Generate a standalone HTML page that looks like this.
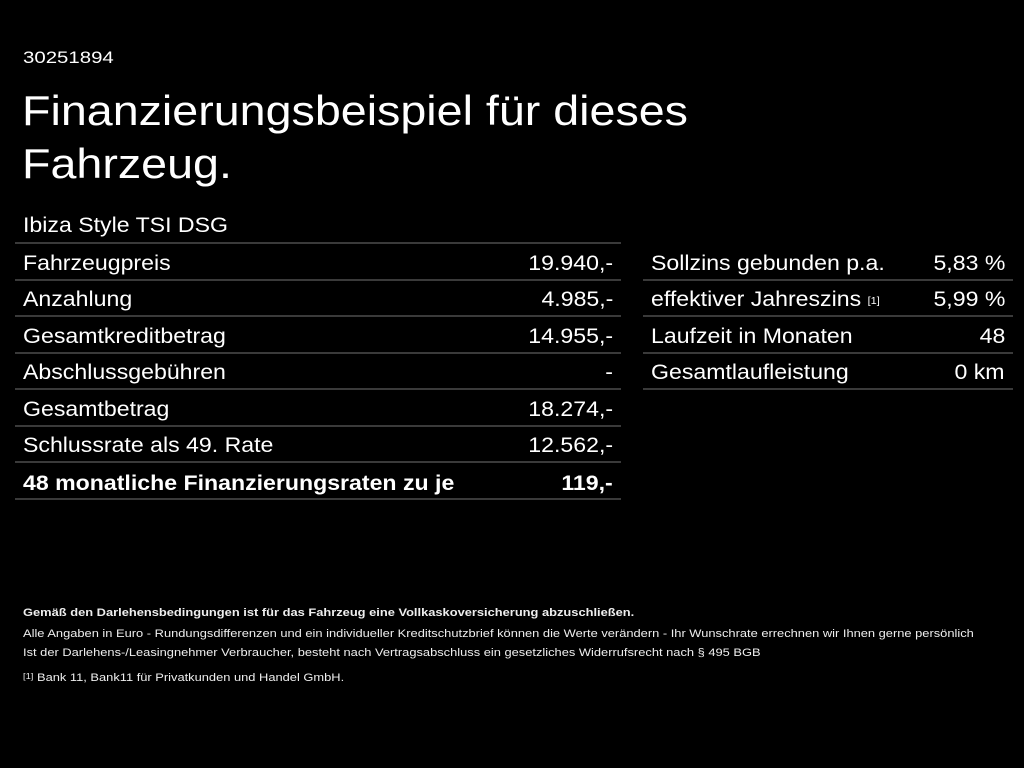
<!DOCTYPE html>
<html><head><meta charset="utf-8"><style>
body{margin:0;background:#000;width:1024px;height:768px;overflow:hidden;font-family:"Liberation Sans",Arial,sans-serif;color:#fff;position:relative}
.a{position:absolute;white-space:nowrap;transform-origin:left top}
.line{position:absolute;height:2px;background:#3a3a3a}
.t{position:absolute;font-size:21px;white-space:nowrap;line-height:24px;transform:scaleX(1.1);transform-origin:left top;margin-top:2px}
.r{transform-origin:right top}
.s{font-size:11px;position:absolute;white-space:nowrap;color:#eee;transform:scaleX(1.17);transform-origin:left top}
sup{font-size:10px;line-height:0;position:relative;top:-2px;vertical-align:baseline}
</style></head><body>
<div class="a" style="left:23px;top:48px;font-size:17px;transform:scaleX(1.2)">30251894</div>
<div class="a" style="left:22px;top:84px;font-size:42px;line-height:53px;transform:scaleX(1.11)">Finanzierungsbeispiel für dieses<br>Fahrzeug.</div>
<div class="t" style="left:23px;top:212px">Ibiza Style TSI DSG</div>

<div class="line" style="left:15px;width:606px;top:242px"></div>
<div class="line" style="left:15px;width:606px;top:279px"></div>
<div class="line" style="left:15px;width:606px;top:315px"></div>
<div class="line" style="left:15px;width:606px;top:352px"></div>
<div class="line" style="left:15px;width:606px;top:388px"></div>
<div class="line" style="left:15px;width:606px;top:425px"></div>
<div class="line" style="left:15px;width:606px;top:461px"></div>
<div class="line" style="left:15px;width:606px;top:498px"></div>

<div class="line" style="left:643px;width:370px;top:279px"></div>
<div class="line" style="left:643px;width:370px;top:315px"></div>
<div class="line" style="left:643px;width:370px;top:352px"></div>
<div class="line" style="left:643px;width:370px;top:388px"></div>

<div class="t" style="left:23px;top:250px">Fahrzeugpreis</div><div class="t r" style="right:411px;top:250px">19.940,-</div>
<div class="t" style="left:23px;top:286px">Anzahlung</div><div class="t r" style="right:411px;top:286px">4.985,-</div>
<div class="t" style="left:23px;top:323px">Gesamtkreditbetrag</div><div class="t r" style="right:411px;top:323px">14.955,-</div>
<div class="t" style="left:23px;top:359px">Abschlussgebühren</div><div class="t r" style="right:411px;top:359px">-</div>
<div class="t" style="left:23px;top:396px">Gesamtbetrag</div><div class="t r" style="right:411px;top:396px">18.274,-</div>
<div class="t" style="left:23px;top:432px">Schlussrate als 49. Rate</div><div class="t r" style="right:411px;top:432px">12.562,-</div>
<div class="t" style="left:23px;top:470px;font-weight:bold">48 monatliche Finanzierungsraten zu je</div><div class="t r" style="right:411px;top:470px;font-weight:bold">119,-</div>

<div class="t" style="left:651px;top:250px">Sollzins gebunden p.a.</div><div class="t r" style="right:19px;top:250px">5,83 %</div>
<div class="t" style="left:651px;top:286px">effektiver Jahreszins <sup>[1]</sup></div><div class="t r" style="right:19px;top:286px">5,99 %</div>
<div class="t" style="left:651px;top:323px">Laufzeit in Monaten</div><div class="t r" style="right:19px;top:323px">48</div>
<div class="t" style="left:651px;top:359px">Gesamtlaufleistung</div><div class="t r" style="right:19px;top:359px">0 km</div>

<div class="s" style="left:23px;top:607px;font-weight:bold">Gemäß den Darlehensbedingungen ist für das Fahrzeug eine Vollkaskoversicherung abzuschließen.</div>
<div class="s" style="left:23px;top:628px">Alle Angaben in Euro - Rundungsdifferenzen und ein individueller Kreditschutzbrief können die Werte verändern - Ihr Wunschrate errechnen wir Ihnen gerne persönlich</div>
<div class="s" style="left:23px;top:647px">Ist der Darlehens-/Leasingnehmer Verbraucher, besteht nach Vertragsabschluss ein gesetzliches Widerrufsrecht nach § 495 BGB</div>
<div class="s" style="left:23px;top:672px"><span style="font-size:8px;vertical-align:top">[1]</span> Bank 11, Bank11 für Privatkunden und Handel GmbH.</div>
</body></html>
